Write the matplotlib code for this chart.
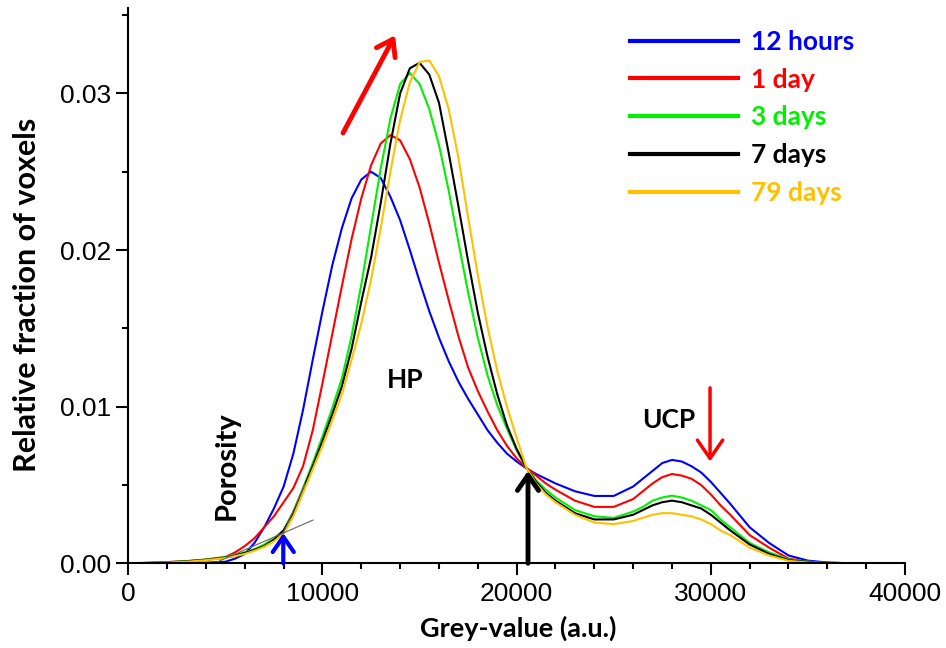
import matplotlib
matplotlib.use("Agg")
import matplotlib.pyplot as plt
from matplotlib.ticker import MultipleLocator, FormatStrFormatter

# ---------------- data ----------------
grey = [0, 1000, 2000, 3000, 4000,
        5000, 5500, 6000, 6500, 7000, 7500, 8000, 8500, 9000, 9500,
        10000, 10500, 11000, 11500, 12000, 12500, 13000, 13500, 14000, 14500,
        15000, 15500, 16000, 16500, 17000, 17500, 18000, 18500, 19000, 19500,
        20000, 20500, 21000, 21500, 22000,
        23000, 24000, 25000, 26000,
        26500, 27000, 27500, 28000, 28500, 29000, 29500, 30000, 30500, 31000,
        32000, 33000, 34000, 35000, 36000, 37000, 38000, 40000]

h12 = [0, 0, 0, 0.00001, 0.00004,
       0.0001, 0.0003, 0.0006, 0.0013, 0.0023, 0.0035, 0.0049, 0.0070, 0.0098, 0.0130,
       0.0161, 0.0190, 0.0214, 0.0233, 0.0245, 0.0250, 0.0246, 0.0234, 0.0219, 0.0200,
       0.0180, 0.0161, 0.0144, 0.0129, 0.0116, 0.0105, 0.0095, 0.0085, 0.0077, 0.0070,
       0.0065, 0.00606, 0.0057, 0.0054, 0.0051,
       0.0046, 0.0043, 0.0043, 0.0049,
       0.0054, 0.0059, 0.0064, 0.0066, 0.0065, 0.0062, 0.0058, 0.0052, 0.0045, 0.0038,
       0.0023, 0.0013, 0.0005, 0.00017, 0.00005, 0.00001, 0, 0]

d1 = [0, 0.00003, 0.00008, 0.00014, 0.00024,
      0.0004, 0.0007, 0.0011, 0.0016, 0.0023, 0.0030, 0.0039, 0.0048, 0.0062, 0.0085,
      0.0115, 0.0146, 0.0177, 0.0207, 0.0233, 0.0254, 0.0268, 0.02734, 0.0270, 0.0258,
      0.0240, 0.0217, 0.0192, 0.0168, 0.0145, 0.0125, 0.0110, 0.0097, 0.0085, 0.0075,
      0.0067, 0.0061, 0.0056, 0.0051, 0.0047,
      0.0040, 0.0036, 0.0036, 0.0041,
      0.0046, 0.0051, 0.0055, 0.0057, 0.0056, 0.0054, 0.0050, 0.0044, 0.0037, 0.0031,
      0.0018, 0.0010, 0.0003, 0.0001, 0.00003, 0.00001, 0, 0]

d3 = [0, 0.00003, 0.00007, 0.00013, 0.00024,
      0.0004, 0.00055, 0.0007, 0.0009, 0.0012, 0.0016, 0.0021, 0.0033, 0.0048, 0.0064,
      0.0081, 0.0099, 0.0118, 0.0145, 0.0178, 0.0215, 0.0252, 0.0284, 0.0306, 0.0313,
      0.0306, 0.0290, 0.0267, 0.0238, 0.0205, 0.0173, 0.0144, 0.0120, 0.0101, 0.0086,
      0.0072, 0.0061, 0.0053, 0.0047, 0.0042,
      0.0034, 0.0030, 0.0029, 0.0033,
      0.0036, 0.0040, 0.0042, 0.00432, 0.0042, 0.0040, 0.0037, 0.0034, 0.0028, 0.0023,
      0.0013, 0.0007, 0.00025, 0.0001, 0.00003, 0.00001, 0, 0]

d7 = [0, 0.00002, 0.00006, 0.00012, 0.00022,
      0.00037, 0.0005, 0.00066, 0.00086, 0.0011, 0.0015, 0.0021, 0.0032, 0.0047, 0.0062,
      0.0078, 0.0095, 0.0113, 0.0137, 0.0167, 0.0195, 0.0230, 0.0268, 0.0300, 0.0316,
      0.03195, 0.0312, 0.0294, 0.0262, 0.0228, 0.0193, 0.0160, 0.0132, 0.0108, 0.0088,
      0.0073, 0.0061, 0.0052, 0.0045, 0.0040,
      0.0032, 0.0028, 0.0028, 0.0031,
      0.0034, 0.0037, 0.0039, 0.0040, 0.0039, 0.0037, 0.0035, 0.0031, 0.0026, 0.0021,
      0.0012, 0.0006, 0.0002, 0.00008, 0.00002, 0, 0, 0]

d79 = [0, 0.00002, 0.00005, 0.0001, 0.0002,
       0.00034, 0.00046, 0.0006, 0.0008, 0.00105, 0.0014, 0.0019, 0.0030, 0.0045, 0.0060,
       0.0075, 0.0091, 0.0108, 0.0130, 0.0153, 0.0181, 0.0214, 0.0250, 0.0283, 0.0307,
       0.0320, 0.0321, 0.0311, 0.0290, 0.0259, 0.0221, 0.0184, 0.0151, 0.0123, 0.0100,
       0.0080, 0.0061, 0.0051, 0.0044, 0.0039,
       0.0031, 0.0026, 0.0025, 0.0027,
       0.0029, 0.0031, 0.0032, 0.0032, 0.0031, 0.0030, 0.0028, 0.0025, 0.0021, 0.0018,
       0.0010, 0.0005, 0.00016, 0.00005, 0.00001, 0, 0, 0]

series_labels = ["12 hours", "1 day", "3 days", "7 days", "79 days"]
series_colors = ["#0000FF", "#FF0000", "#00F000", "#000000", "#FFC000"]
series_values = [h12, d1, d3, d7, d79]

x_ticks = [0, 10000, 20000, 30000, 40000]
y_ticks = [0.00, 0.01, 0.02, 0.03]

# annotation geometry (data units)
tangent_low_x = [4600, 9512]
tangent_low_y = [0.00010, 0.00276]
tangent_steep_x = [7982, 9100]
tangent_steep_y = [0.00193, 0.00506]
blue_arrow = ((7982, 0.0), (7982, 0.00193))
black_arrow = ((20585, 0.0), (20585, 0.0059))
red_up_arrow = ((11057, 0.02747), (13735, 0.0337))
red_down_arrow = ((29960, 0.0112), (29960, 0.0065))

# ---------------- figure ----------------
W, H = 946, 648
fig = plt.figure(figsize=(W / 100, H / 100), dpi=100)
ax = fig.add_axes([128.3 / W, 1 - 563.3 / H, (905 - 128.3) / W, (563.3 - 8) / H])

for vals, lab, col in zip(series_values, series_labels, series_colors):
    ax.plot(grey, vals, color=col, lw=1.5, label=lab, solid_joinstyle="round")

ax.set_xlim(0, 40000)
ax.set_ylim(0, 0.03545)

for s in ["top", "right"]:
    ax.spines[s].set_visible(False)
for s in ["left", "bottom"]:
    ax.spines[s].set_linewidth(1.5)

ax.set_xticks(x_ticks)
ax.set_yticks(y_ticks)
ax.xaxis.set_minor_locator(MultipleLocator(2000))
ax.yaxis.set_minor_locator(MultipleLocator(0.005))
ax.yaxis.set_major_formatter(FormatStrFormatter("%.2f"))
ax.tick_params(which="major", length=8.5, width=1.5, direction="out")
ax.tick_params(which="minor", length=4.5, width=1.5, direction="out")
ax.tick_params(axis="x", which="major", pad=5)
ax.tick_params(axis="y", which="major", pad=4)
for lbl in ax.get_xticklabels() + ax.get_yticklabels():
    lbl.set_fontfamily("Liberation Sans")
    lbl.set_fontsize(19)

bold = dict(family="Lato", weight="bold")

fig.text(27 / W, 1 - 295 / H, "Relative fraction of voxels", rotation=90,
         ha="center", va="center", fontsize=22, **bold)
fig.text(518 / W, 1 - 628 / H, "Grey-value (a.u.)", ha="center", va="center",
         fontsize=19.5, **bold)

ax.text(14250, 0.0117, "HP", ha="center", va="center", fontsize=19, **bold)
ax.text(27840, 0.00915, "UCP", ha="center", va="center", fontsize=19, **bold)
ax.text(5040, 0.00626, "Porosity", rotation=90, ha="center", va="center",
        fontsize=21, **bold)

# tangent lines
ax.plot(tangent_low_x, tangent_low_y, color="#666666", lw=0.8)
ax.plot(tangent_steep_x, tangent_steep_y, color="#666666", lw=0.8)

def arrow(start, end, color, lw, ms=20):
    ax.annotate("", xy=end, xytext=start, xycoords="data",
                arrowprops=dict(arrowstyle="->, head_length=0.55, head_width=0.38",
                                color=color, lw=lw, mutation_scale=ms,
                                shrinkA=0, shrinkB=0), annotation_clip=False)

arrow(*blue_arrow, "#0000FF", 3)
arrow(*black_arrow, "#000000", 3.5)
arrow(*red_up_arrow, "#FF0000", 3.5)
arrow(*red_down_arrow, "#FF0000", 2.5, ms=24)

leg = ax.legend(loc="upper left", bbox_to_anchor=(630 / W, 1 - 30 / H),
                bbox_transform=fig.transFigure, frameon=False, borderpad=0,
                borderaxespad=0, handlelength=4.1, handletextpad=0.5,
                labelspacing=0.52, labelcolor="linecolor",
                prop=dict(family="Lato", weight="bold", size=19))
for ln in leg.get_lines():
    ln.set_linewidth(3)

fig.savefig("out.png", dpi=100)
